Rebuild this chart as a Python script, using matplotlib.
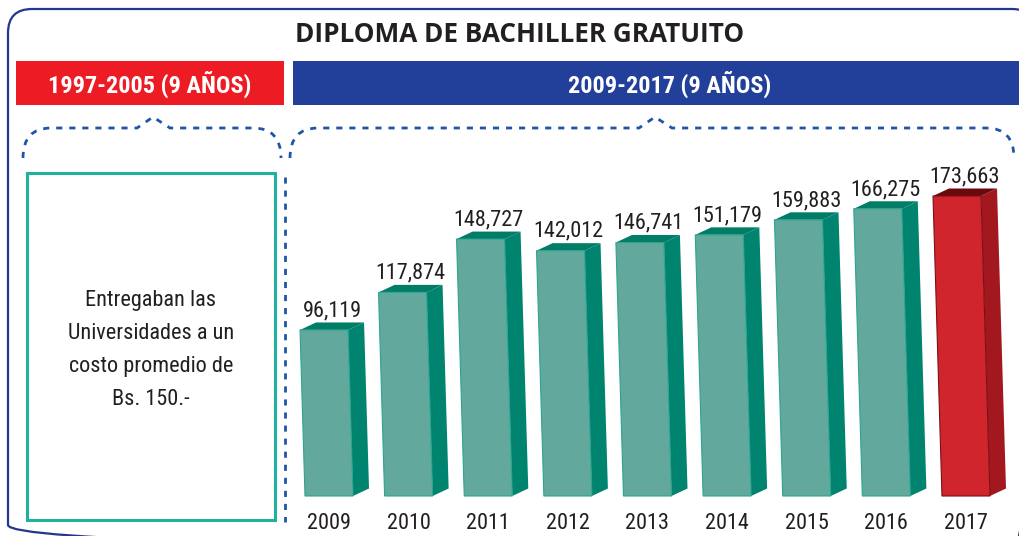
import numpy as np
import matplotlib
matplotlib.use('Agg')
import matplotlib.pyplot as plt
from matplotlib import font_manager
from matplotlib.patches import FancyBboxPatch, Rectangle, PathPatch
from matplotlib.path import Path

# Data
years = ['2009', '2010', '2011', '2012', '2013', '2014', '2015', '2016', '2017']
diplomas = [96119, 117874, 148727, 142012, 146741, 151179, 159883, 166275, 173663]
title = 'DIPLOMA DE BACHILLER GRATUITO'
left_banner = '1997-2005 (9 AÑOS)'
right_banner = '2009-2017 (9 AÑOS)'
box_text = 'Entregaban las\nUniversidades a un\ncosto promedio de\nBs. 150.-'


# Pick a narrow font if there is one
def pick_font(names):
    for name in names:
        try:
            font_manager.findfont(font_manager.FontProperties(family=name), fallback_to_default=False)
            return name
        except Exception:
            pass
    return 'DejaVu Sans'


narrow = pick_font(['Liberation Sans Narrow', 'Roboto Condensed', 'Open Sans Condensed', 'Liberation Sans'])
wide = pick_font(['Open Sans', 'Lato', 'Noto Sans'])

text_color = '#231f20'
navy = '#22388f'
red = '#ed1c24'
blue = '#22409a'
dot_blue = '#1f55a6'
teal_edge = '#1db39a'

W, H = 1019, 536
fig = plt.figure(figsize=(W / 100, H / 100), dpi=100)

# Background axes in pixel units for the frame, banners and braces
bg = fig.add_axes([0, 0, 1, 1])
bg.set_xlim(0, W)
bg.set_ylim(H, 0)
bg.axis('off')

bg.add_patch(FancyBboxPatch((8, 9), 1028, 540, boxstyle='round,pad=0,rounding_size=24',
                            fill=False, edgecolor=navy, linewidth=1.6))
bg.text(520, 34, title, ha='center', va='center', fontsize=18.8, fontweight='bold',
        family=wide, color=text_color)

bg.add_patch(Rectangle((16, 61), 268, 44, facecolor=red, edgecolor='none'))
bg.add_patch(Rectangle((293, 61), 730, 44, facecolor=blue, edgecolor='none'))
bg.text(150, 84, left_banner, ha='center', va='center', fontsize=17.5, fontweight='bold',
        family=narrow, color='white')
bg.text(670, 84, right_banner, ha='center', va='center', fontsize=17.5, fontweight='bold',
        family=narrow, color='white')


# Dotted braces
def brace(x0, x1, xm, y_end=158, y_top=128, y_peak=117, r=28):
    verts = [(x0, y_end), (x0, y_top), (x0 + r, y_top),
             (xm - 16, y_top), (xm, y_peak), (xm + 17, y_top),
             (x1 - r, y_top), (x1, y_top), (x1, y_end)]
    codes = [Path.MOVETO, Path.CURVE3, Path.CURVE3,
             Path.LINETO, Path.LINETO, Path.LINETO,
             Path.LINETO, Path.CURVE3, Path.CURVE3]
    bg.add_patch(PathPatch(Path(verts, codes), fill=False, edgecolor=dot_blue,
                           linewidth=2.0, linestyle=(0, (2.2, 2.5))))


brace(23, 281, 153)
brace(290, 1014, 655)
bg.plot([285, 285], [177, 522], color=dot_blue, linewidth=2.0, linestyle=(0, (2.2, 2.5)))

bg.add_patch(Rectangle((27, 173), 248, 347, fill=False, edgecolor=teal_edge, linewidth=2.2))
bg.text(151, 350, box_text, ha='center', va='center', fontsize=16, family=narrow,
        color=text_color, linespacing=1.74)

# Bars axes
ymax = 194500
ax = fig.add_axes([289.2 / W, (H - 496) / H, 716.6 / W, 336 / H])
ax.set_xlim(-0.5, len(years) - 0.5)
ax.set_ylim(0, ymax)
ax.axis('off')

w = 0.603       # front face width
dx = 0.201      # depth to the right
dy = 4340       # depth upwards
slant = 6.5e-7  # lean of the bars

for i, (yr, v) in enumerate(zip(years, diplomas)):
    last = i == len(years) - 1
    front = '#d1252d' if last else '#63a89d'
    side = '#a3181f' if last else '#00846f'
    top = '#6a0a0e' if last else '#007c67'
    edge = '#7a1016' if last else '#2aa590'
    s = v * slant
    xl, xr = i - w / 2, i + w / 2
    ax.fill([xl, xr, xr - s, xl - s], [0, 0, v, v], facecolor=front, edgecolor=edge,
            linewidth=0.8, clip_on=False, zorder=3)
    ax.fill([xr, xr + dx, xr + dx - s, xr - s], [0, dy, v + dy, v], facecolor=side,
            edgecolor='none', clip_on=False, zorder=2)
    ax.fill([xl - s, xr - s, xr + dx - s, xl + dx - s], [v, v, v + dy, v + dy], facecolor=top,
            edgecolor='none', clip_on=False, zorder=2)
    ax.annotate(f'{v:,}', (xl - s + (w + dx) / 2, v + dy), xytext=(0, 4.5), textcoords='offset points',
                ha='center', va='baseline', fontsize=16, family=narrow, color=text_color,
                annotation_clip=False)
    ax.annotate(yr, (i, 0), xytext=(0, -20), textcoords='offset points', ha='center',
                va='center', fontsize=16, family=narrow, color=text_color, annotation_clip=False)

fig.savefig('out.png', dpi=100)
